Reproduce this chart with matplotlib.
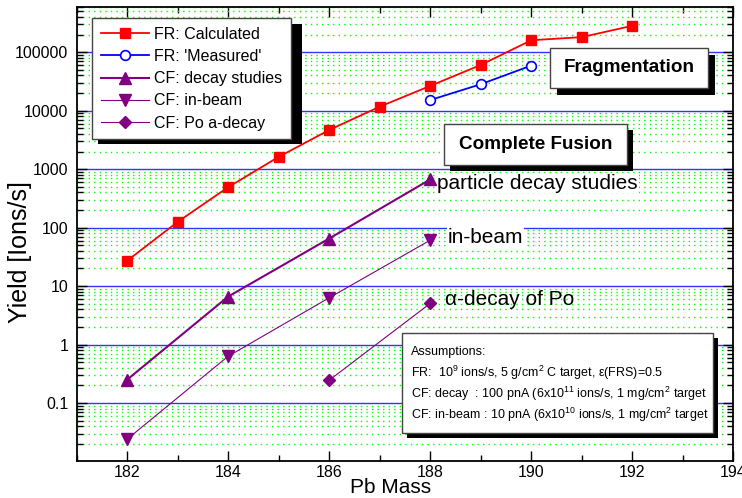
import numpy as np
import matplotlib
matplotlib.use('Agg')
import matplotlib.pyplot as plt
from matplotlib.patches import Rectangle
from matplotlib.ticker import LogLocator, NullFormatter, FixedLocator, MultipleLocator

plt.rcParams['font.family'] = ['Liberation Sans', 'DejaVu Sans']
plt.rcParams['mathtext.fontset'] = 'custom'
plt.rcParams['mathtext.rm'] = 'Liberation Sans'
plt.rcParams['mathtext.it'] = 'Liberation Sans:italic'

# data
mass_fr = [182, 183, 184, 185, 186, 187, 188, 189, 190, 191, 192]
fr_calc = [27, 125, 490, 1620, 4670, 11700, 26500, 60500, 160000, 181000, 283000]
mass_meas = [188, 189, 190]
fr_meas = [15200, 28300, 59000]
mass_cf = [182, 184, 186, 188]
cf_decay = [0.25, 6.6, 65, 667]
cf_inbeam = [0.024, 0.63, 6.3, 61]
mass_po = [186, 188]
cf_po = [0.245, 5.06]

ytick_vals = [0.1, 1, 10, 100, 1000, 10000, 100000]
ytick_labels = ['0.1', '1', '10', '100', '1000', '10000', '100000']
xtick_vals = [182, 184, 186, 188, 190, 192, 194]

RED = '#ff0000'
BLUE = '#0000ff'
PURPLE = '#800080'

fig = plt.figure(figsize=(7.42, 4.98), dpi=100)
ax = fig.add_axes([0.1031, 0.0733, 0.8854, 0.9133])
ax.set_yscale('log')
ax.set_xlim(181, 194)
ax.set_ylim(0.01, 6e5)

# grid: blue decades, green dotted minors
ax.yaxis.set_major_locator(FixedLocator(ytick_vals))
ax.set_yticklabels(ytick_labels)
ax.yaxis.set_minor_locator(LogLocator(base=10, subs=np.arange(2, 10)))
ax.yaxis.set_minor_formatter(NullFormatter())
ax.xaxis.set_major_locator(FixedLocator(xtick_vals))
ax.xaxis.set_minor_locator(MultipleLocator(1))
ax.grid(True, which='major', axis='y', color='#3333ff', lw=1.0, zorder=0)
ax.grid(True, which='minor', axis='y', color='#00ff00', lw=1.0, linestyle=(0, (1, 3)), zorder=0)
ax.set_axisbelow(True)

ax.tick_params(which='both', direction='in', top=True, right=True, labelsize=11.5)
ax.tick_params(axis='x', pad=2.5)
ax.tick_params(axis='y', pad=6)
ax.tick_params(which='major', length=7, width=1)
ax.tick_params(which='minor', length=4, width=1)
for s in ax.spines.values():
    s.set_linewidth(1.3)

ax.plot(mass_fr, fr_calc, color=RED, lw=1.3, marker='s', ms=7, label='FR: Calculated', zorder=5)
ax.plot(mass_meas, fr_meas, color=BLUE, lw=1.3, marker='o', ms=7, mfc='white', mec=BLUE,
        mew=1.2, label="FR: 'Measured'", zorder=5)
ax.plot(mass_cf, cf_decay, color=PURPLE, lw=1.5, marker='^', ms=8, label='CF: decay studies', zorder=5)
ax.plot(mass_cf, cf_inbeam, color=PURPLE, lw=0.8, marker='v', ms=8, label='CF: in-beam', zorder=5)
ax.plot(mass_po, cf_po, color=PURPLE, lw=0.8, marker='D', ms=6, label='CF: Po a-decay', zorder=5)

ax.set_xlabel('Pb Mass', fontsize=15)
ax.set_ylabel('Yield [Ions/s]', fontsize=18)
ax.xaxis.set_label_coords(0.478, -0.036)
ax.yaxis.set_label_coords(-0.068, 0.46)

leg = ax.legend(loc='upper left', bbox_to_anchor=(0.0236, 0.9750), borderaxespad=0,
                fontsize=11.5, handlelength=3.0, handletextpad=0.35, borderpad=0.55,
                labelspacing=0.45, fancybox=False, framealpha=1, edgecolor='#444444')
leg.get_frame().set_linewidth(1.0)
leg.set_zorder(20)

# boxes with drop shadows (pixel geometry -> axes fraction)
x0, x1, y0, y1 = 76.5, 733.5, 6.7, 461.5


def px(x, y):
    return (x - x0) / (x1 - x0), (y1 - y) / (y1 - y0)


def shadow_box(left, top, right, bottom, off, z):
    w = (right - left) / (x1 - x0)
    h = (bottom - top) / (y1 - y0)
    sx, sy = px(left + off, bottom + off)
    ax.add_patch(Rectangle((sx, sy), w, h, transform=ax.transAxes, facecolor='black',
                           edgecolor='black', lw=0, zorder=z, clip_on=False))
    bx, by = px(left, bottom)
    ax.add_patch(Rectangle((bx, by), w, h, transform=ax.transAxes, facecolor='white',
                           edgecolor='#444444', lw=1.0, zorder=z + 0.1, clip_on=False))
    return px((left + right) / 2, (top + bottom) / 2)


# legend shadow
lsx, lsy = px(92 + 6, 138 + 6)
ax.add_patch(Rectangle((lsx, lsy), 204 / (x1 - x0), 120 / (y1 - y0), transform=ax.transAxes,
                       facecolor='black', lw=0, zorder=19))

cx, cy = shadow_box(550, 48, 708, 88, 7, 10)
ax.text(cx, cy, 'Fragmentation', transform=ax.transAxes, ha='center', va='center',
        fontsize=13.6, fontweight='bold', zorder=12)
cx, cy = shadow_box(444, 124, 627, 165, 6, 10)
ax.text(cx, cy, 'Complete Fusion', transform=ax.transAxes, ha='center', va='center',
        fontsize=13.6, fontweight='bold', zorder=12)

shadow_box(402, 333, 713, 433, 5, 10)
assumptions = [
    'Assumptions:',
    'FR:  10$^{9}$ ions/s, 5 g/cm$^{2}$ C target, \u03b5(FRS)=0.5',
    'CF: decay  : 100 pnA (6x10$^{11}$ ions/s, 1 mg/cm$^{2}$ target',
    'CF: in-beam : 10 pnA (6x10$^{10}$ ions/s, 1 mg/cm$^{2}$ target',
]
for i, line in enumerate(assumptions):
    tx, ty = px(411, 352 + 21 * i)
    ax.text(tx, ty, line, transform=ax.transAxes, ha='left', va='center', fontsize=9.0, zorder=12)

ax.text(188.14, 577, 'particle decay studies', fontsize=15, va='center', ha='left', zorder=4,
        bbox=dict(facecolor='white', edgecolor='none', pad=0.5))
ax.text(188.34, 69, 'in-beam', fontsize=15, va='center', ha='left', zorder=4,
        bbox=dict(facecolor='white', edgecolor='none', pad=0.5))
ax.text(188.3, 5.8, '\u03b1-decay of Po', fontsize=15, va='center', ha='left', zorder=4)

fig.savefig('out.png', dpi=100)
